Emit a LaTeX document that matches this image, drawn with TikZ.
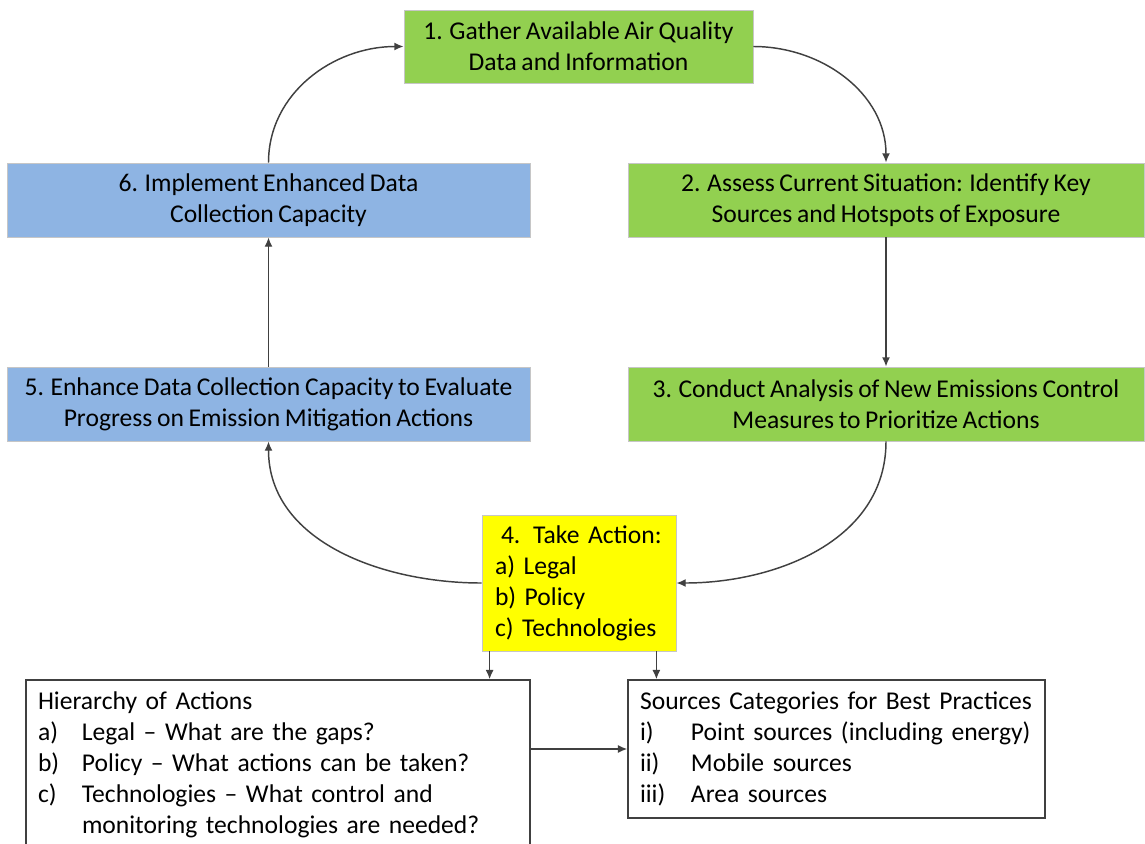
\documentclass[tikz,border=0pt]{standalone}
\usepackage{fontspec}
\setmainfont[WordSpace=0.8]{Carlito}
\usepackage{tikz}
\usetikzlibrary{arrows.meta}
\definecolor{stepgreen}{HTML}{92D050}
\definecolor{stepblue}{HTML}{8EB4E3}
\definecolor{stepyellow}{HTML}{FFFF00}
\definecolor{linegray}{HTML}{404040}
\newcommand{\lbl}[2]{\makebox[#1][l]{#2}}

\begin{document}
\begin{tikzpicture}[x=0.75pt,y=-0.75pt]
 \tikzset{arrow/.style={draw=linegray,line width=1.1pt,-{Latex[length=7pt,width=6pt]}},
  stage/.style={rectangle,draw=gray!45,line width=0.6pt,inner sep=0pt,align=center,font=\fontsize{19.2}{23.25}\selectfont},
  wide/.style={stage,minimum width=387pt,minimum height=55.5pt},
  notebox/.style={rectangle,draw=linegray,line width=1.1pt,fill=white,inner xsep=9pt,inner ysep=0pt,align=left,font=\fontsize{19.2}{23.25}\selectfont}}
 \useasboundingbox (0,0) rectangle (1145,843);
 \node[stage,fill=stepgreen,minimum width=261.75pt,minimum height=54.75pt] (A) at (578.5,46.5) {1. Gather Available Air Quality\\Data and Information};
 \node[wide,fill=stepgreen] (B) at (886,200) {2. Assess Current Situation: Identify Key\\Sources and Hotspots of Exposure};
 \node[wide,fill=stepgreen] (C) at (886,404) {3. Conduct Analysis of New Emissions Control\\Measures to Prioritize Actions};
 \node[stage,fill=stepyellow,minimum width=145.5pt,minimum height=102pt,align=left,text width=126pt,inner xsep=9.75pt] (D) at (579,583) {\hspace*{4.5pt}4. Take Action:\\a) Legal\\b) Policy\\c) Technologies};
 \node[wide,fill=stepblue,minimum width=392.25pt] (E) at (268.5,404) {5. Enhance Data Collection Capacity to Evaluate\\Progress on Emission Mitigation Actions};
 \node[wide,fill=stepblue,minimum width=392.25pt] (F) at (268.5,200) {6. Implement Enhanced Data\\Collection Capacity};
 \node[notebox,text width=360pt,minimum height=127.5pt] (H) at (278,765) {Hierarchy of Actions\\\lbl{33pt}{a)}Legal -- What are the gaps?\\\lbl{33pt}{b)}Policy -- What actions can be taken?\\\lbl{33pt}{c)}Technologies -- What control and\\\lbl{33pt}{}monitoring technologies are needed?};
 \node[notebox,text width=294.75pt,minimum height=103.5pt] (S) at (836.5,749) {Sources Categories for Best Practices\\\lbl{38.25pt}{i)}Point sources (including energy)\\\lbl{38.25pt}{ii)}Mobile sources\\\lbl{38.25pt}{iii)}Area sources};

 \draw[arrow] (A.east) to[out=0,in=90] (B.north);
 \draw[arrow] (B) -- (C);
 \draw[arrow] (C.south) to[out=-90,in=0] (D.east);
 \draw[arrow] (D.west) to[out=180,in=-90] (E.south);
 \draw[arrow] (E) -- (F);
 \draw[arrow] (F.north) to[out=90,in=180] (A.west);
 \draw[arrow] ([xshift=6pt]D.south west) -- ([xshift=6pt]D.south west |- H.north);
 \draw[arrow] ([xshift=-15pt]D.south east) -- ([xshift=-15pt]D.south east |- S.north);
 \draw[arrow] (H.east |- S.west) -- (S.west);
\end{tikzpicture}
\end{document}
